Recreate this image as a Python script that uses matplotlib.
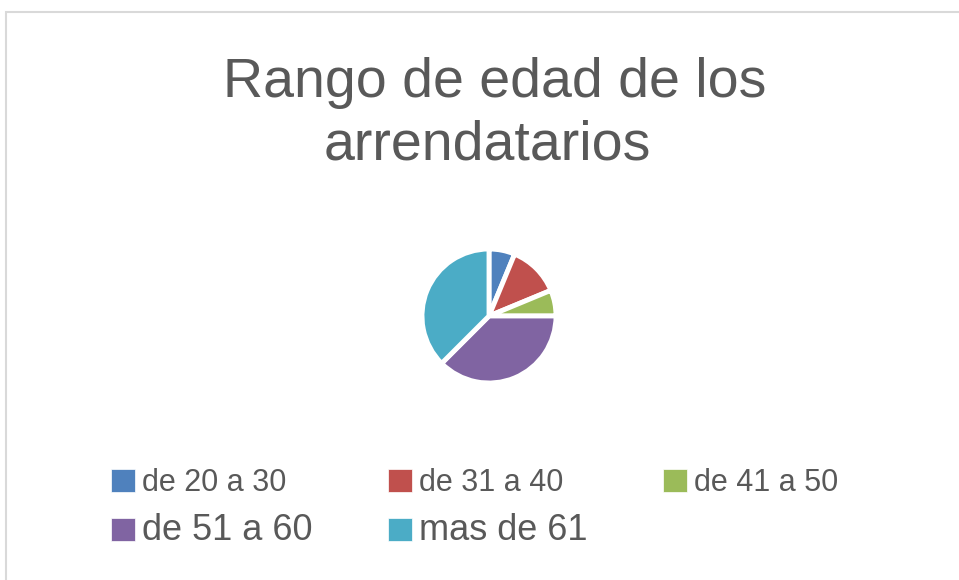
import matplotlib.pyplot as plt
from matplotlib.patches import Rectangle

# Data
labels = ["de 20 a 30", "de 31 a 40", "de 41 a 50", "de 51 a 60", "mas de 61"]
values = [1, 2, 1, 6, 6]
colors = ["#4F81BD", "#C0504D", "#9BBB59", "#8064A2", "#4BACC6"]
title_lines = ["Rango de edad de los", "arrendatarios"]

plt.rcParams["font.family"] = ["Liberation Sans", "DejaVu Sans"]

W, H = 959, 580
fig = plt.figure(figsize=(W / 100, H / 100), dpi=100)

# light grey chart border (extends past right/bottom edges)
fig.patches.append(Rectangle((6 / W, -0.1), 1.2, (H - 12) / H + 0.1,
                             transform=fig.transFigure, fill=False,
                             edgecolor="#D9D9D9", linewidth=1.5))

# title, two lines placed separately (second line is slightly left)
fig.text(495 / W, 1 - 83 / H, title_lines[0], ha="center", va="center",
         fontsize=40, color="#595959")
fig.text(487 / W, 1 - 145 / H, title_lines[1], ha="center", va="center",
         fontsize=40, color="#595959")

# pie
r = 67
cx, cy = 489, 316
ax = fig.add_axes([(cx - r) / W, 1 - (cy + r) / H, 2 * r / W, 2 * r / H])
wedges, _ = ax.pie(values, colors=colors, startangle=90, counterclock=False,
                   wedgeprops=dict(edgecolor="white", linewidth=3.5))
ax.set_xlim(-1, 1)
ax.set_ylim(-1, 1)
ax.set_aspect("equal")
ax.axis("off")

# legend: reorder so rows read left to right
order = [0, 3, 1, 4, 2]
leg = fig.legend([wedges[i] for i in order], [labels[i] for i in order],
                 ncol=3, loc="upper left", bbox_to_anchor=(111 / W, 1 - 468 / H),
                 frameon=False, fontsize=22, handlelength=0.78, handleheight=0.78,
                 handletextpad=0.25, columnspacing=2.45, labelspacing=0.5,
                 borderpad=0, borderaxespad=0)
for t in leg.get_texts():
    t.set_color("#595959")
for i, t in zip(order, leg.get_texts()):
    if i in (3, 4):
        t.set_fontsize(26)
for h in leg.legend_handles:
    h.set_edgecolor("white")
    h.set_linewidth(0.5)

fig.savefig("out.png", dpi=100)
